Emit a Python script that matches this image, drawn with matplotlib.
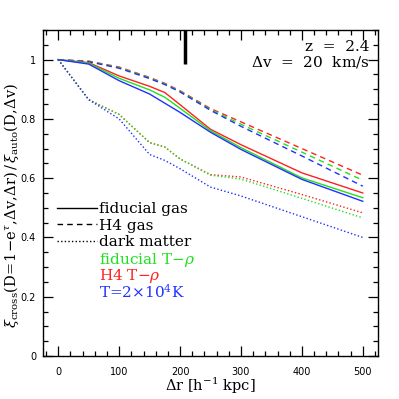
import matplotlib
matplotlib.use("Agg")
import matplotlib.pyplot as plt
from matplotlib.ticker import MultipleLocator

plt.rcParams['font.family'] = ['DejaVu Serif']
plt.rcParams['mathtext.fontset'] = 'dejavuserif'

dr = [0, 50, 100, 150, 175, 200, 250, 300, 400, 500]

# solid: gas (fiducial simulation)
gas_fid_red = [1, 0.99, 0.945, 0.91, 0.889, 0.848, 0.765, 0.713, 0.618, 0.55]
gas_fid_green = [1, 0.988, 0.937, 0.898, 0.873, 0.836, 0.76, 0.703, 0.601, 0.534]
gas_fid_blue = [1, 0.985, 0.929, 0.884, 0.853, 0.822, 0.755, 0.697, 0.596, 0.522]

# dashed: H4 gas
gas_h4_red = [1, 0.995, 0.975, 0.94, 0.92, 0.895, 0.835, 0.79, 0.70, 0.61]
gas_h4_green = [1, 0.994, 0.973, 0.938, 0.918, 0.893, 0.832, 0.782, 0.688, 0.593]
gas_h4_blue = [1, 0.993, 0.971, 0.936, 0.916, 0.891, 0.829, 0.775, 0.675, 0.573]

# dotted: dark matter
dm_red = [1, 0.865, 0.815, 0.72, 0.705, 0.665, 0.612, 0.604, 0.545, 0.483]
dm_green = [1, 0.865, 0.815, 0.72, 0.705, 0.665, 0.61, 0.597, 0.532, 0.466]
dm_blue = [1, 0.865, 0.80, 0.68, 0.66, 0.632, 0.57, 0.54, 0.47, 0.40]

marker_x = 208
marker_y = [0.985, 1.1]

legend_labels = ['fiducial gas', 'H4 gas', 'dark matter',
                 r'fiducial T$-\rho$', r'H4 T$-\rho$', r'T=2$\times$10$^4$K']

RED, GREEN, BLUE = '#ff2020', '#20e020', '#2030ff'

fig = plt.figure(figsize=(3.99, 3.99), dpi=100)
ax = fig.add_axes([43/399, 1 - 356/399, (378-43)/399, (356-30)/399])

lw = 1.0
dash = (0, (4, 3))
dot = (0, (1, 1.6))
for ys, c in [(gas_h4_red, RED), (gas_h4_green, GREEN), (gas_h4_blue, BLUE)]:
    ax.plot(dr, ys, color=c, lw=lw, linestyle=dash)
for ys, c in [(gas_fid_red, RED), (gas_fid_green, GREEN), (gas_fid_blue, BLUE)]:
    ax.plot(dr, ys, color=c, lw=lw, linestyle='-')
for ys, c in [(dm_red, RED), (dm_green, GREEN), (dm_blue, BLUE)]:
    ax.plot(dr, ys, color=c, lw=lw, linestyle=dot)

ax.plot([marker_x, marker_x], marker_y, color='black', lw=2.5, solid_capstyle='butt')

ax.set_xlim(-25, 525)
ax.set_ylim(0, 1.1)
ax.xaxis.set_major_locator(MultipleLocator(100))
ax.xaxis.set_minor_locator(MultipleLocator(20))
ax.yaxis.set_major_locator(MultipleLocator(0.2))
ax.yaxis.set_minor_locator(MultipleLocator(0.05))
ax.set_yticks([0, 0.2, 0.4, 0.6, 0.8, 1.0])
ax.set_yticklabels(['0', '0.2', '0.4', '0.6', '0.8', '1'])
ax.tick_params(which='both', direction='in', top=True, right=True,
               labelsize=7, labelfontfamily='DejaVu Sans')
ax.tick_params(which='major', length=7, width=0.9)
ax.tick_params(which='minor', length=3.5, width=0.9)
ax.tick_params(axis='x', pad=8)
ax.tick_params(axis='y', pad=5)
for s in ax.spines.values():
    s.set_linewidth(1.0)

ax.set_xlabel(r'$\Delta$r [h$^{-1}$ kpc]', fontsize=10.5)
ax.xaxis.set_label_coords(0.5, -0.092)
ax.xaxis.label.set_va('center')
ax.set_ylabel(r'$\xi_{\rm cross}({\rm D\!=\!1\!-\!e}^{\tau}{\rm ,\!\Delta v,\!\Delta r)\,/\,}\xi_{\rm auto}({\rm D,\!\Delta v})$',
              fontsize=10.5)
ax.yaxis.set_label_coords(-0.094, 0.463)
ax.yaxis.label.set_va('center')

ax.text(0.975, 0.97, 'z  =  2.4', transform=ax.transAxes, ha='right', va='top', fontsize=11)
ax.text(0.975, 0.925, r'$\Delta$v  =  20  km/s', transform=ax.transAxes, ha='right', va='top', fontsize=11)

# legend (keys drawn in axes coordinates)
key_styles = ['-', dash, dot, None, None, None]
text_colors = ['black', 'black', 'black', GREEN, RED, BLUE]
x0, x1, xt = (57 - 43) / 335, (97 - 43) / 335, (99 - 43) / 335
row0, step = (356 - 208) / 326, 16.4 / 326
for i, (lab, ls, tc) in enumerate(zip(legend_labels, key_styles, text_colors)):
    yy = row0 - i * step
    if ls is not None:
        ax.plot([x0, x1], [yy, yy], transform=ax.transAxes, color='black', lw=1, linestyle=ls)
    ax.text(xt, yy, lab, transform=ax.transAxes, ha='left', va='center_baseline',
            fontsize=11, color=tc)

fig.savefig('out.png', dpi=100)
